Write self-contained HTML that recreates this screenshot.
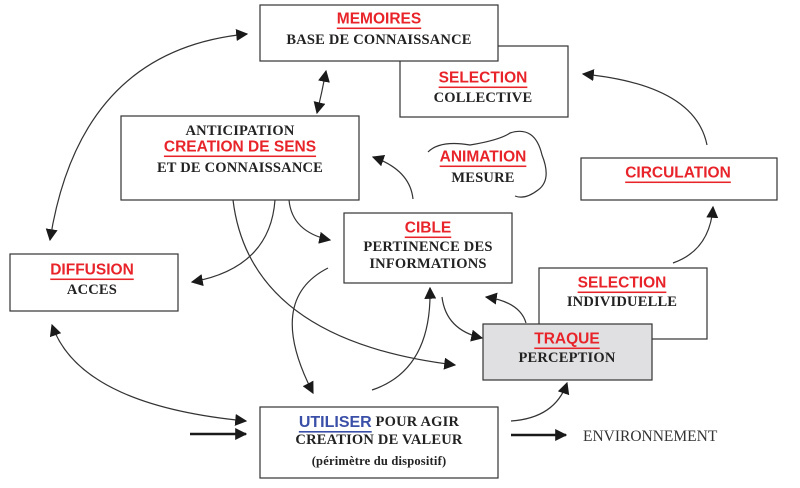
<!DOCTYPE html>
<html><head><meta charset="utf-8"><style>
html,body{margin:0;padding:0;background:#fff;}
svg{display:block;}
.r{font-family:"Liberation Sans",sans-serif;font-weight:bold;font-size:15.5px;fill:#e8242a;text-decoration:underline;}
.b{font-family:"Liberation Serif",serif;font-weight:bold;font-size:14.5px;fill:#222;letter-spacing:0.2px;}
.bl{font-family:"Liberation Sans",sans-serif;font-weight:bold;font-size:16px;fill:#3a4fa8;text-decoration:underline;}
</style></head><body>
<svg width="800" height="488" viewBox="0 0 800 488" xmlns="http://www.w3.org/2000/svg">
<defs>
<marker id="a" viewBox="0 0 10 10" refX="9" refY="5" markerWidth="12" markerHeight="12" markerUnits="userSpaceOnUse" orient="auto-start-reverse">
<path d="M0 0 L10 5 L0 10 z" fill="#1a1a1a"/></marker>
</defs>
<g fill="none" stroke="#333" stroke-width="1.2">
<rect x="400" y="46" width="168" height="71" fill="#fff"/>
<rect x="260" y="5" width="238" height="56" fill="#fff"/>
<rect x="121" y="116" width="238" height="84" fill="#fff"/>
<rect x="344" y="213" width="168" height="70" fill="#fff"/>
<rect x="581" y="158" width="196" height="42" fill="#fff"/>
<rect x="10" y="254" width="168" height="57" fill="#fff"/>
<rect x="539" y="268" width="168" height="71" fill="#fff"/>
<rect x="483" y="324" width="169" height="56" fill="#e0e0e2"/>
<rect x="260" y="407" width="238" height="71" fill="#fff"/>
<path d="M247 34 Q80 50 50 240" marker-start="url(#a)" marker-end="url(#a)"/>
<path d="M326 71 Q322 92 317 113" marker-start="url(#a)" marker-end="url(#a)"/>
<path d="M707 145 Q695 85 583 74" marker-end="url(#a)"/>
<path d="M428 152 Q440 140 470 145 Q500 140 510 133 Q535 125 542 155 Q552 180 538 190 Q525 200 515 196"/>
<path d="M413 199 Q410 170 373 157" marker-end="url(#a)"/>
<path d="M233 200 Q250 340 455 365" marker-end="url(#a)"/>
<path d="M275 200 Q270 268 192 282" marker-end="url(#a)"/>
<path d="M289 200 Q292 232 330 240" marker-end="url(#a)"/>
<path d="M328 268 Q265 300 313 393" marker-end="url(#a)"/>
<path d="M372 390 Q432 370 430 288" marker-end="url(#a)"/>
<path d="M442 297 Q446 330 482 338" marker-end="url(#a)"/>
<path d="M526 323 Q520 302 486 297" marker-end="url(#a)"/>
<path d="M673 263 Q710 250 713 207" marker-end="url(#a)"/>
<path d="M246 421 Q80 405 52 325" marker-start="url(#a)" marker-end="url(#a)"/>
<path d="M511 421 Q555 418 567 383" marker-end="url(#a)"/>
<path d="M190 434 L246 434" stroke-width="2.5" stroke="#1a1a1a" marker-end="url(#a)"/>
<path d="M511 435 L566 435" stroke-width="2.5" stroke="#1a1a1a" marker-end="url(#a)"/>
</g>
<g text-anchor="middle" dominant-baseline="central">
<text class="r" x="379" y="19">MEMOIRES</text>
<text class="b" x="379" y="40">BASE DE CONNAISSANCE</text>
<text class="r" x="483" y="78">SELECTION</text>
<text class="b" x="483" y="98">COLLECTIVE</text>
<text class="b" x="240" y="131">ANTICIPATION</text>
<text class="r" x="240" y="147">CREATION DE SENS</text>
<text class="b" x="240" y="168">ET DE CONNAISSANCE</text>
<text class="r" x="483" y="157">ANIMATION</text>
<text class="b" x="483" y="178">MESURE</text>
<text class="r" x="678" y="173">CIRCULATION</text>
<text class="r" x="428" y="228">CIBLE</text>
<text class="b" x="428" y="247">PERTINENCE DES</text>
<text class="b" x="428" y="264">INFORMATIONS</text>
<text class="r" x="92" y="270">DIFFUSION</text>
<text class="b" x="92" y="290">ACCES</text>
<text class="r" x="622" y="283">SELECTION</text>
<text class="b" x="622" y="302">INDIVIDUELLE</text>
<text class="r" x="567" y="339">TRAQUE</text>
<text class="b" x="567" y="358">PERCEPTION</text>
<text x="379" y="422"><tspan class="bl">UTILISER</tspan><tspan class="b"> POUR AGIR</tspan></text>
<text class="b" x="379" y="440">CREATION DE VALEUR</text>
<text class="b" x="379" y="461" style="font-size:12.5px">(périmètre du dispositif)</text>
</g>
<text x="583" y="441" style="font-family:'Liberation Serif',serif;font-size:15.5px;fill:#333">ENVIRONNEMENT</text>
</svg>
</body></html>
